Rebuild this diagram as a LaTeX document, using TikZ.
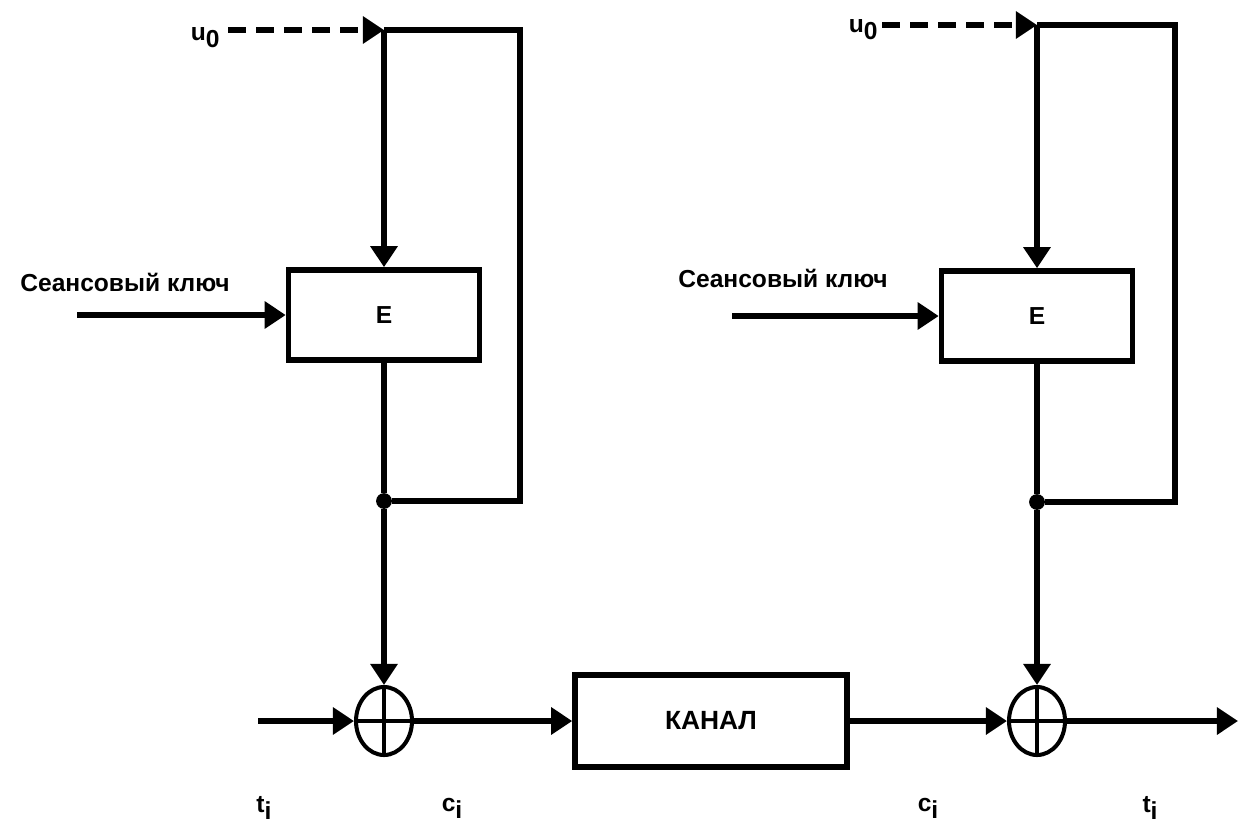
\documentclass[tikz,border=0pt]{standalone}
\usepackage{fontspec}
\setmainfont{Liberation Sans}
\usepackage{tikz}
\usetikzlibrary{positioning, arrows.meta, shapes.geometric}

\newcommand{\idx}[1]{\raisebox{-0.55ex}{#1}}

\tikzset{
  blok/.style={draw, line width=3.2pt, inner sep=0pt,
               minimum width=3.82cm, minimum height=1.8cm,
               font=\fontsize{14}{16}\selectfont\bfseries},
  summ/.style={ellipse, draw, line width=2.3pt, inner sep=0pt,
               minimum width=1.12cm, minimum height=1.36cm,
               path picture={\draw[line width=2pt]
                 (path picture bounding box.north) -- (path picture bounding box.south)
                 (path picture bounding box.west) -- (path picture bounding box.east);}},
  lbl/.style={inner sep=0pt, font=\fontsize{14}{16}\selectfont\bfseries},
  wire/.style={line width=3.2pt},
  sig/.style={line width=3.2pt, -{Triangle[length=12pt,width=15pt]}},
  init/.style={line width=3pt, dash pattern=on 10pt off 6pt,
               -{Triangle[length=12pt,width=15pt]}},
  dot/.style={circle, fill, inner sep=0pt, minimum size=9pt}
}

\begin{document}
\begin{tikzpicture}[x=0.02cm, y=-0.02cm]
  \useasboundingbox (0,0) rectangle (1239,829);

  % left side: encryption
  \node[blok] (E1) at (384,315) {E};
  \node[summ] (S1) at (384,721) {};
  \node[lbl, anchor=east] (u1) at (220,38) {u\idx{0}};
  \node[lbl] (k1) at (125,282) {Сеансовый ключ};
  \coordinate (t1) at (384,30);
  \coordinate (r1) at (520,30);
  \coordinate (r1b) at (520,501);
  \node[dot] (d1) at (384,501) {};
  \coordinate (k1in) at (77,315);
  \coordinate (in1) at (258,721);

  \draw[init] (u1.east |- t1) ++(8,0) -- (t1);
  \draw[wire] (t1) -- (r1) -- (r1b) -- (d1);
  \draw[sig] (t1) -- (E1);
  \draw[sig] (k1in) -- (E1);
  \draw[wire] (E1) -- (d1);
  \draw[sig] (d1) -- (S1);
  \draw[sig] (in1) -- (S1);

  % channel
  \node[blok, minimum width=5.44cm, minimum height=1.84cm,
        font=\fontsize{15}{17}\selectfont\bfseries] (kanal) at (711,721) {КАНАЛ};
  \draw[sig] (S1) -- (kanal);

  % right side: decryption
  \node[blok] (E2) at (1037,316) {E};
  \node[summ] (S2) at (1037,721) {};
  \node[lbl, anchor=east] (u2) at (878,30) {u\idx{0}};
  \node[lbl] (k2) at (783,278) {Сеансовый ключ};
  \coordinate (t2) at (1037,25);
  \coordinate (r2) at (1175,25);
  \coordinate (r2b) at (1175,502);
  \node[dot] (d2) at (1037,502) {};
  \coordinate (k2in) at (732,316);
  \coordinate (out) at (1238,721);

  \draw[init] (u2.east |- t2) ++(4,0) -- (t2);
  \draw[wire] (t2) -- (r2) -- (r2b) -- (d2);
  \draw[sig] (t2) -- (E2);
  \draw[sig] (k2in) -- (E2);
  \draw[wire] (E2) -- (d2);
  \draw[sig] (d2) -- (S2);
  \draw[sig] (kanal) -- (S2);
  \draw[sig] (S2) -- (out);

  % signal labels
  \node[lbl] (ti1) at (264,808) {t\idx{i}};
  \node[lbl] (ci1) at (452,808) {c\idx{i}};
  \node[lbl] (ci2) at (928,808) {c\idx{i}};
  \node[lbl] (ti2) at (1150,808) {t\idx{i}};
\end{tikzpicture}
\end{document}
